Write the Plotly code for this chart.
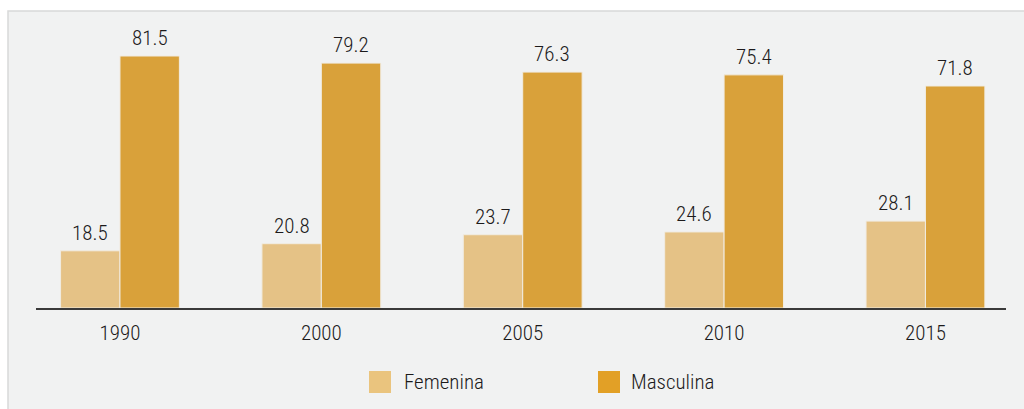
import plotly.graph_objects as go

years = ["1990", "2000", "2005", "2010", "2015"]
series_names = ["Femenina", "Masculina"]
femenina = [18.5, 20.8, 23.7, 24.6, 28.1]
masculina = [81.5, 79.2, 76.3, 75.4, 71.8]
bar_colors = ["#e5c286", "#d9a13a"]
legend_colors = ["#eac47e", "#e2a026"]

FONT = "Roboto Condensed, Roboto, sans-serif"
TXT = dict(family=FONT, size=21, weight=300, color="#1c1a1b")
W, H = 1024, 409
L, R, T, B = 36, 18, 20, 101
pw, ph = W - L - R, H - T - B
X_RANGE = [-0.417, 4.40]
BARGAP = 0.41


def px_x(p):
    return (p - L) / pw


def px_y(p):
    return (H - B - p) / ph


fig = go.Figure()
annotations = []
# width of one bar in category units, used to centre value labels over each bar
bar_w = (1 - BARGAP) / len(series_names)
for k, (name, vals, col) in enumerate(zip(series_names, [femenina, masculina], bar_colors)):
    fig.add_trace(go.Bar(
        x=years, y=vals, name=name,
        marker=dict(color=col, line=dict(color="#f1ece2", width=1)),
        showlegend=False,
    ))
    offset = (k - (len(series_names) - 1) / 2) * bar_w
    for i, v in enumerate(vals):
        annotations.append(dict(x=i + offset, y=v, xref="x", yref="y", text=f"{v:.1f}",
                                showarrow=False, xanchor="center", yanchor="bottom",
                                yshift=4, font=TXT))

# grey panel behind the chart
shapes = [dict(type="rect", xref="paper", yref="paper",
               x0=px_x(8), x1=px_x(1040), y0=px_y(430), y1=px_y(11),
               fillcolor="#f1f2f2", line=dict(color="#d8d9d9", width=1.5),
               layer="below")]
# legend swatches and labels
legend_px = [(369, 402), (598, 629)]
for (sx, tx), name, col in zip(legend_px, series_names, legend_colors):
    shapes.append(dict(type="rect", xref="paper", yref="paper",
                       x0=px_x(sx), x1=px_x(sx + 22), y0=px_y(393), y1=px_y(371),
                       fillcolor=col, line=dict(width=0)))
    annotations.append(dict(xref="paper", yref="paper", x=px_x(tx), y=px_y(382),
                            xanchor="left", yanchor="middle", text=name, showarrow=False,
                            font=TXT))

fig.update_layout(
    width=W, height=H, margin=dict(l=L, r=R, t=T, b=B),
    paper_bgcolor="white", plot_bgcolor="rgba(0,0,0,0)",
    barmode="group", bargap=BARGAP, bargroupgap=0.0,
    shapes=shapes, annotations=annotations,
    xaxis=dict(type="category", range=X_RANGE, showline=True,
               linecolor="#3a3a3a", linewidth=1.5, showgrid=False,
               ticks="outside", ticklen=5, tickcolor="rgba(0,0,0,0)",
               tickfont=TXT),
    yaxis=dict(range=[0, ph / 3.092], visible=False, showgrid=False),
    font=dict(family=FONT),
)

fig.write_html("out.html")
